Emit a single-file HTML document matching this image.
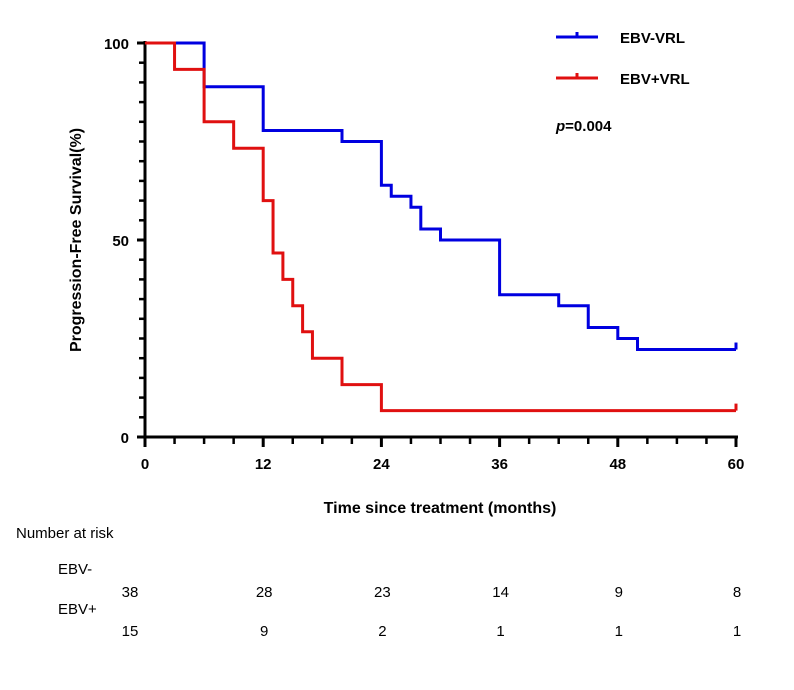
<!DOCTYPE html>
<html><head><meta charset="utf-8"><style>
body{margin:0;background:#fff;}
svg text{font-family:"Liberation Sans",Arial,sans-serif;}
</style></head><body>
<svg width="794" height="685" viewBox="0 0 794 685" xmlns="http://www.w3.org/2000/svg">
<g id="axes"></g>
<g id="curves"></g>
<text x="81" y="240" transform="rotate(-90 81 240)" text-anchor="middle" font-size="16" font-weight="bold">Progression-Free Survival(%)</text>
<text x="440" y="513" text-anchor="middle" font-size="16" font-weight="bold">Time since treatment (months)</text>
<g>
<line x1="556" y1="37" x2="598" y2="37" stroke="#0000e0" stroke-width="3"/><line x1="577" y1="32" x2="577" y2="37" stroke="#0000e0" stroke-width="3"/>
<text x="620" y="43" font-size="15" font-weight="bold">EBV-VRL</text>
<line x1="556" y1="78" x2="598" y2="78" stroke="#e01010" stroke-width="3"/><line x1="577" y1="73" x2="577" y2="78" stroke="#e01010" stroke-width="3"/>
<text x="620" y="84" font-size="15" font-weight="bold">EBV+VRL</text>
</g>
<text x="556" y="131" font-size="15" font-weight="bold"><tspan font-style="italic">p</tspan>=0.004</text>
<text x="16" y="538" font-size="15">Number at risk</text>
<text x="58" y="574" font-size="15">EBV-</text>
<text x="58" y="614" font-size="15">EBV+</text>
<g id="risk"></g>
</svg>
<script>
const riskTimes=[0,12,24,36,48,60];
const riskNeg=[38,28,23,14,9,8];
const riskPos=[15,9,2,1,1,1];
const negTimes=[0,6,12,20,24,25,27,28,30,36,42,45,48,50,60];
const negSurv=[100,88.9,77.8,75,63.9,61.1,58.3,52.8,50,36.1,33.3,27.8,25,22.2,22.2];
const posTimes=[0,3,6,9,12,13,14,15,16,17,20,24,60];
const posSurv=[100,93.3,80,73.3,60,46.7,40,33.3,26.7,20,13.3,6.7,6.7];
const xTicks=[0,12,24,36,48,60];
const yTicks=[0,50,100];
const NS="http://www.w3.org/2000/svg";
const X=t=>145+t*(736-145)/60;
const Y=v=>437-v*(437-43)/100;
function mk(tag,attrs,parent){const e=document.createElementNS(NS,tag);for(const k in attrs)e.setAttribute(k,attrs[k]);parent.appendChild(e);return e;}
const ax=document.getElementById('axes');
let a=mk('line',{x1:145,y1:41,x2:145,y2:439,stroke:'#000','stroke-width':3},ax);


a=mk('line',{x1:143,y1:437,x2:738,y2:437,stroke:'#000','stroke-width':3},ax);


for(let v=0;v<=100;v+=5){const major=v%50===0;mk('line',{x1:major?137:139,y1:Y(v),x2:145,y2:Y(v),stroke:'#000','stroke-width':major?3:2.5},ax);}
for(let t=0;t<=60;t+=3){const major=t%12===0;mk('line',{x1:X(t),y1:437,x2:X(t),y2:major?447:444,stroke:'#000','stroke-width':major?3:2.5},ax);}
yTicks.forEach(v=>{const e=mk('text',{x:129,y:Y(v)+6,'text-anchor':'end','font-size':15,'font-weight':'bold'},ax);e.textContent=v;

});
xTicks.forEach(t=>{const e=mk('text',{x:X(t),y:469,'text-anchor':'middle','font-size':15,'font-weight':'bold'},ax);e.textContent=t;

});
function stepPath(ts,ss){let d='M'+X(ts[0])+','+Y(ss[0]);for(let i=1;i<ts.length;i++){d+=' H'+X(ts[i])+' V'+Y(ss[i]);}return d;}
const cv=document.getElementById('curves');
let p=mk('path',{d:stepPath(negTimes,negSurv),fill:'none',stroke:'#0000e0','stroke-width':3},cv);


let c=mk('line',{x1:X(60),y1:Y(negSurv[negSurv.length-1]),x2:X(60),y2:Y(negSurv[negSurv.length-1])-7,stroke:'#0000e0','stroke-width':3},cv);


p=mk('path',{d:stepPath(posTimes,posSurv),fill:'none',stroke:'#e01010','stroke-width':3},cv);


c=mk('line',{x1:X(60),y1:Y(posSurv[posSurv.length-1]),x2:X(60),y2:Y(posSurv[posSurv.length-1])-7,stroke:'#e01010','stroke-width':3},cv);


const rk=document.getElementById('risk');
riskTimes.forEach((t,i)=>{
 const cx=i===0?X(t)-15:X(t)+1;
 let e=mk('text',{x:cx,y:597,'text-anchor':'middle','font-size':15},rk);e.textContent=riskNeg[i];
 
 
 e=mk('text',{x:cx,y:636,'text-anchor':'middle','font-size':15},rk);e.textContent=riskPos[i];
 
 
});
</script>
</body></html>
